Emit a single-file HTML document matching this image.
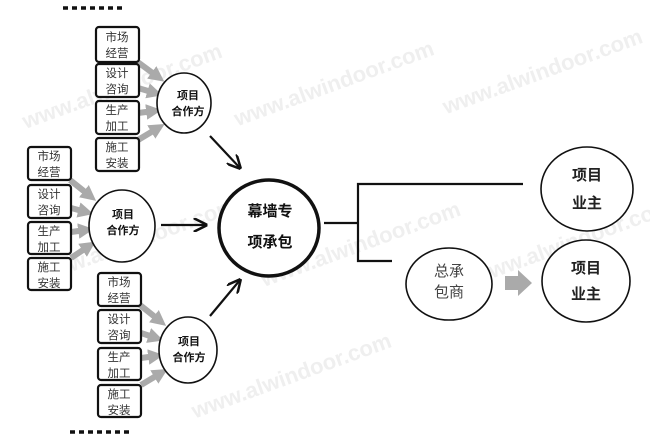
<!DOCTYPE html>
<html><head><meta charset="utf-8"><style>
html,body{margin:0;padding:0;background:#fff;}
svg{display:block;font-family:"Liberation Sans","Noto Sans CJK SC",sans-serif;}
.b{fill:#fff;stroke:#111;stroke-width:2.2;}
.bt{font-size:11.5px;fill:#333;text-anchor:middle;}
.c{fill:#fff;stroke:#111;stroke-width:1.6;}
.ct{font-size:11px;font-weight:bold;fill:#111;text-anchor:middle;}
.g{stroke:#aaa;stroke-width:6;fill:none;}
.k{stroke:#111;stroke-width:2.2;fill:none;}
.w{font-size:22px;fill:#efefef;font-weight:bold;}
</style></head><body>
<svg width="650" height="445" viewBox="0 0 650 445">
<defs>
<marker id="ga" viewBox="0 0 10 10" refX="5" refY="5" markerWidth="2.6" markerHeight="2.6" orient="auto"><path d="M0,0L10,5L0,10z" fill="#aaa"/></marker>
<marker id="ka" viewBox="0 0 10 10" refX="9" refY="5" markerWidth="14" markerHeight="14" orient="auto" markerUnits="userSpaceOnUse"><path d="M0,0L10,5L0,10" fill="none" stroke="#111" stroke-width="1.8"/></marker>
</defs>
<g class="w" transform="rotate(-20)">
<text x="-20" y="130">www.alwindoor.com</text>
<text x="180" y="200">www.alwindoor.com</text>
<text x="-60" y="280">www.alwindoor.com</text>
<text x="150" y="360">www.alwindoor.com</text>
<text x="380" y="260">www.alwindoor.com</text>
<text x="40" y="460">www.alwindoor.com</text>
<text x="350" y="430">www.alwindoor.com</text>
</g>
<line x1="63" y1="8" x2="125" y2="8" stroke="#111" stroke-width="3.5" stroke-dasharray="5,4"/>
<line x1="70" y1="432" x2="132" y2="432" stroke="#111" stroke-width="3.5" stroke-dasharray="5,4"/>

<g>
<line class="g" x1="135" y1="60" x2="158" y2="77" marker-end="url(#ga)"/>
<line class="g" x1="138" y1="88" x2="155" y2="93" marker-end="url(#ga)"/>
<line class="g" x1="138" y1="113" x2="154" y2="111" marker-end="url(#ga)"/>
<line class="g" x1="138" y1="140" x2="158" y2="128" marker-end="url(#ga)"/>
<rect class="b" x="96" y="27" width="43" height="35" rx="3"/><text class="bt" x="117" y="41">市场</text><text class="bt" x="117" y="57">经营</text>
<rect class="b" x="96" y="64" width="43" height="33" rx="3"/><text class="bt" x="117" y="77">设计</text><text class="bt" x="117" y="93">咨询</text>
<rect class="b" x="96" y="101" width="43" height="33" rx="3"/><text class="bt" x="117" y="114">生产</text><text class="bt" x="117" y="130">加工</text>
<rect class="b" x="96" y="138" width="43" height="33" rx="3"/><text class="bt" x="117" y="151">施工</text><text class="bt" x="117" y="167">安装</text>
<ellipse class="c" cx="184" cy="103" rx="27" ry="30"/><text class="ct" x="188" y="99">项目</text><text class="ct" x="188" y="115">合作方</text>
</g>
<g>
<line class="g" x1="70" y1="180" x2="90" y2="196" marker-end="url(#ga)"/>
<line class="g" x1="71" y1="208" x2="86" y2="212" marker-end="url(#ga)"/>
<line class="g" x1="71" y1="232" x2="86" y2="230" marker-end="url(#ga)"/>
<line class="g" x1="71" y1="258" x2="89" y2="246" marker-end="url(#ga)"/>
<rect class="b" x="28" y="147" width="43" height="33" rx="3"/><text class="bt" x="49" y="160">市场</text><text class="bt" x="49" y="176">经营</text>
<rect class="b" x="28" y="185" width="43" height="33" rx="3"/><text class="bt" x="49" y="198">设计</text><text class="bt" x="49" y="214">咨询</text>
<rect class="b" x="28" y="222" width="43" height="32" rx="3"/><text class="bt" x="49" y="235">生产</text><text class="bt" x="49" y="251">加工</text>
<rect class="b" x="28" y="258" width="43" height="32" rx="3"/><text class="bt" x="49" y="271">施工</text><text class="bt" x="49" y="287">安装</text>
<ellipse class="c" cx="122" cy="226" rx="33" ry="36"/><text class="ct" x="123" y="218">项目</text><text class="ct" x="123" y="234">合作方</text>
</g>
<g>
<line class="g" x1="140" y1="305" x2="160" y2="321" marker-end="url(#ga)"/>
<line class="g" x1="141" y1="333" x2="156" y2="338" marker-end="url(#ga)"/>
<line class="g" x1="141" y1="358" x2="156" y2="356" marker-end="url(#ga)"/>
<line class="g" x1="141" y1="385" x2="161" y2="373" marker-end="url(#ga)"/>
<rect class="b" x="98" y="273" width="43" height="33" rx="3"/><text class="bt" x="119" y="286">市场</text><text class="bt" x="119" y="302">经营</text>
<rect class="b" x="98" y="310" width="43" height="33" rx="3"/><text class="bt" x="119" y="323">设计</text><text class="bt" x="119" y="339">咨询</text>
<rect class="b" x="98" y="348" width="43" height="32" rx="3"/><text class="bt" x="119" y="361">生产</text><text class="bt" x="119" y="377">加工</text>
<rect class="b" x="98" y="385" width="43" height="32" rx="3"/><text class="bt" x="119" y="398">施工</text><text class="bt" x="119" y="414">安装</text>
<ellipse class="c" cx="188" cy="350" rx="29" ry="33"/><text class="ct" x="189" y="345">项目</text><text class="ct" x="189" y="361">合作方</text>
</g>
<line class="k" x1="210" y1="136" x2="240" y2="168" marker-end="url(#ka)"/>
<line class="k" x1="161" y1="225" x2="206" y2="225" marker-end="url(#ka)"/>
<line class="k" x1="210" y1="316" x2="240" y2="280" marker-end="url(#ka)"/>
<ellipse cx="269" cy="228" rx="50" ry="48" fill="#fff" stroke="#111" stroke-width="3.5"/>
<text x="270" y="216" font-size="15" font-weight="bold" fill="#111" text-anchor="middle">幕墙专</text>
<text x="270" y="247" font-size="15" font-weight="bold" fill="#111" text-anchor="middle">项承包</text>
<polyline class="k" points="324,223 358,223"/>
<polyline class="k" points="523,184 358,184 358,261 392,261"/>
<ellipse class="c" cx="449" cy="284" rx="43" ry="36"/>
<text x="449" y="276" font-size="15" fill="#444" text-anchor="middle">总承</text>
<text x="449" y="297" font-size="15" fill="#444" text-anchor="middle">包商</text>
<path d="M505,276 L518,276 L518,270 L532,283 L518,296 L518,290 L505,290z" fill="#aaa"/>
<ellipse class="c" cx="587" cy="189" rx="46" ry="42"/>
<text x="587" y="180" font-size="15" font-weight="bold" fill="#222" text-anchor="middle">项目</text>
<text x="587" y="208" font-size="15" font-weight="bold" fill="#222" text-anchor="middle">业主</text>
<ellipse class="c" cx="586" cy="281" rx="44" ry="41"/>
<text x="586" y="273" font-size="15" font-weight="bold" fill="#222" text-anchor="middle">项目</text>
<text x="586" y="299" font-size="15" font-weight="bold" fill="#222" text-anchor="middle">业主</text>
</svg>
</body></html>
